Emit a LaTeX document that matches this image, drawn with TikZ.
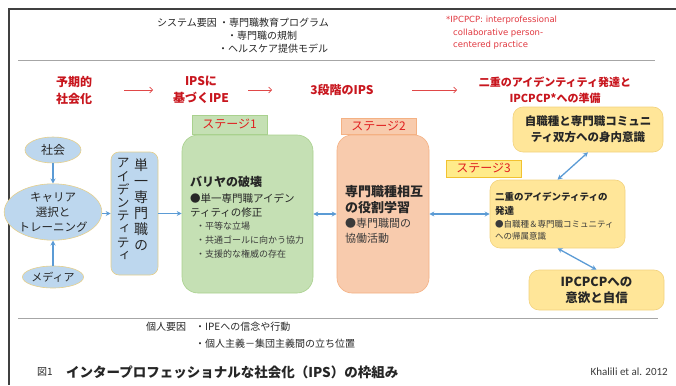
\documentclass[tikz,border=0pt]{standalone}
\usepackage{fontspec}
\setmainfont{Noto Sans CJK JP}
\newfontfamily\dvfont{DejaVu Sans}
\newfontfamily\cbfont{Carlito}
\newfontfamily\jpv[RawFeature=+vert]{Noto Sans CJK JP}
\usetikzlibrary{arrows.meta,shapes.geometric}
\newcommand\myfs[1]{\fontsize{#1}{#1}\selectfont}
\newcommand\myfsb[2]{\fontsize{#1}{#2}\selectfont}
\definecolor{textDark}{HTML}{262626}
\definecolor{textGray}{HTML}{3A3A3A}
\definecolor{headRed}{HTML}{C8161E}
\definecolor{noteRed}{HTML}{E0363E}
\definecolor{labRed}{HTML}{E02020}
\definecolor{lineRed}{HTML}{E04848}
\definecolor{arrowBlue}{HTML}{5B9BD5}
\definecolor{blueFill}{HTML}{BDD7EE}
\definecolor{borderY}{HTML}{E6CF8A}
\definecolor{greenFill}{HTML}{C5E0B4}
\definecolor{greenBorder}{HTML}{A9D18E}
\definecolor{peachFill}{HTML}{F8CBAD}
\definecolor{peachBorder}{HTML}{F4B183}
\definecolor{yellowFill}{HTML}{FFE699}
\definecolor{yellowBorder}{HTML}{F2D27E}
\definecolor{labYFill}{HTML}{FFEB8A}
\definecolor{labYBorder}{HTML}{F2C230}
\definecolor{frameDark}{HTML}{404040}
\definecolor{frameGray}{HTML}{A6A6A6}
\tikzset{
  barrow/.style={draw=arrowBlue, line width=1.3pt, -{Stealth[length=5pt,width=5pt]}},
  bbarrow/.style={draw=arrowBlue, line width=1.3pt, {Stealth[length=5pt,width=5pt]}-{Stealth[length=5pt,width=5pt]}},
  rarrow/.style={draw=lineRed, line width=0.7pt, -{Straight Barb[length=3pt,width=6pt]}},
  txt/.style={inner sep=0pt, anchor=west, text=textDark},
  head/.style={inner sep=0pt, align=center, text=headRed, font=\bfseries\myfsb{12}{17}},
  ell/.style={ellipse, draw=borderY, fill=blueFill, line width=0.6pt, inner sep=0pt, align=center, text=textDark},
  boxbase/.style={rectangle, line width=0.6pt, inner sep=0pt},
  stagelab/.style={rectangle, line width=0.8pt, inner sep=0pt, text=labRed, font=\myfs{12}},
  gline/.style={draw=frameGray, line width=1pt},
}
\begin{document}
\begin{tikzpicture}[x=1pt,y=-1pt]
\useasboundingbox (0,0) rectangle (676,385);
% frame
\draw[draw=frameDark, line width=1.4pt] (676,9) -- (9,9) -- (9,385);
\draw[gline] (18,61) -- (655,61);
\draw[gline] (18,318) -- (658,318);
% top system factors
\node[txt, font=\myfs{10}] (sys) at (157,23) {システム要因};
\node[txt, font=\myfs{10}] (sys1) at (219,23) {・専門職教育プログラム};
\node[txt, font=\myfs{10}] (sys2) at (227,36) {・専門職の規制};
\node[txt, font=\myfs{10}] (sys3) at (218,49) {・ヘルスケア提供モデル};
% note
\node[txt, text=noteRed, font=\dvfont\myfs{8.5}] (note1) at (446,20) {*IPCPCP: interprofessional};
\node[txt, text=noteRed, font=\dvfont\myfs{8.5}] (note2) at (453,33) {collaborative person-};
\node[txt, text=noteRed, font=\dvfont\myfs{8.5}] (note3) at (453,45) {centered practice};
% headers
\node[head] (h1) at (74,90) {予期的\\社会化};
\node[head] (h2) at (201,90) {IPSに\\基づくIPE};
\node[head] (h3) at (342,90) {3段階のIPS};
\node[head, font=\bfseries\myfsb{11}{16}] (h4) at (555,90) {二重のアイデンティティ発達と\\IPCPCP*への準備};
\coordinate (ra1s) at (124,90); \coordinate (ra1e) at (153,90);
\coordinate (ra2s) at (248,90); \coordinate (ra2e) at (272,90);
\coordinate (ra3s) at (412,90); \coordinate (ra3e) at (457,90);
\draw[rarrow] (ra1s) -- (ra1e);
\draw[rarrow] (ra2s) -- (ra2e);
\draw[rarrow] (ra3s) -- (ra3e);
% left ellipses
\node[ell, minimum width=56pt, minimum height=26pt, font=\myfs{12}] (shakai) at (53,150) {社会};
\node[ell, minimum width=88pt, minimum height=56pt, font=\myfsb{11.5}{15}] (career) at (53,212) {キャリア\\選択と\\トレーニング};
\node[ell, minimum width=56pt, minimum height=22pt, font=\myfs{11}] (media) at (53,277) {メディア};
\draw[barrow] (shakai) -- (career);
\draw[barrow] (media) -- (career);
% single-profession identity box
\node[boxbase, draw=borderY, fill=blueFill, rounded corners=8pt, minimum width=47pt, minimum height=123pt] (single) at (134.5,213.5) {};
\node[inner sep=0pt, align=center, text=textDark, font=\jpv\myfsb{14}{16}] (v1) at (141,205) {単\\一\\専\\門\\職\\の};
\node[inner sep=0pt, align=center, text=textDark, font=\jpv\myfsb{13}{13.2}] (v2) at (123,209.5) {ア\\イ\\デ\\ン\\テ\\ィ\\テ\\ィ};
\draw[barrow] (career.east |- single.west) -- (single.west);
% stage 1
\node[boxbase, draw=greenBorder, fill=greenFill, rounded corners=16pt, minimum width=131pt, minimum height=158pt] (s1) at (247.5,214) {};
\node[stagelab, draw=greenBorder, fill=greenFill, minimum width=75pt, minimum height=19pt] (s1lab) at (229.5,124.5) {ステージ1};
\node[txt, font=\bfseries\myfs{12}] (s1a) at (190,182) {バリヤの破壊};
\node[txt, font=\myfs{10.5}] (s1b) at (190,198) {●単一専門職アイデン};
\node[txt, font=\myfs{10.5}] (s1c) at (190,213) {ティティの修正};
\node[txt, font=\myfs{9}, text=textGray] (s1d) at (196,226) {・平等な立場};
\node[txt, font=\myfs{9}, text=textGray] (s1e) at (196,240) {・共通ゴールに向かう協力};
\node[txt, font=\myfs{9}, text=textGray] (s1f) at (196,254) {・支援的な権威の存在};
\draw[barrow] (single.east) -- (single.east -| s1.west);
% stage 2
\node[boxbase, draw=peachBorder, fill=peachFill, rounded corners=15pt, minimum width=92pt, minimum height=158pt] (s2) at (383,214) {};
\node[stagelab, draw=peachBorder, fill=peachFill, minimum width=75pt, minimum height=16pt] (s2lab) at (378.5,126) {ステージ2};
\node[txt, font=\bfseries\myfs{13}] (s2a) at (345,192) {専門職種相互};
\node[txt, font=\bfseries\myfs{13}] (s2b) at (345,208) {の役割学習};
\node[txt, font=\myfs{11}, text=textGray] (s2c) at (345,223) {●専門職間の};
\node[txt, font=\myfs{11}, text=textGray] (s2d) at (345,238) {協働活動};
\draw[bbarrow] (s1.east) -- (s1.east -| s2.west);
% stage 3
\node[boxbase, draw=yellowBorder, fill=yellowFill, rounded corners=10pt, minimum width=135pt, minimum height=68pt] (s3) at (557.5,214) {};
\node[stagelab, draw=labYBorder, fill=labYFill, minimum width=75pt, minimum height=17pt] (s3lab) at (483.5,168.5) {ステージ3};
\node[txt, font=\bfseries\myfs{9.5}] (s3a) at (495,197) {二重のアイデンティティの};
\node[txt, font=\bfseries\myfs{9.5}] (s3b) at (495,211) {発達};
\node[txt, font=\myfs{8.5}, text=textGray] (s3c) at (495,224) {●自職種＆専門職コミュニティ};
\node[txt, font=\myfs{8.5}, text=textGray] (s3d) at (495,236) {への帰属意識};
\draw[bbarrow] (s2.east) -- (s2.east -| s3.west);
% right boxes
\node[boxbase, draw=yellowBorder, fill=yellowFill, rounded corners=10pt, minimum width=150pt, minimum height=45pt, align=center, text=textDark, font=\bfseries\myfsb{11.5}{16}] (topb) at (588,129.5) {自職種と専門職コミュニ\\ティ双方への身内意識};
\node[boxbase, draw=yellowBorder, fill=yellowFill, rounded corners=10pt, minimum width=135pt, minimum height=40pt, align=center, text=textDark, font=\bfseries\myfsb{12.5}{16}] (botb) at (596.5,290) {IPCPCPへの\\意欲と自信};
\draw[bbarrow] (topb.south) -- (s3.north);
\draw[bbarrow] (s3.south) -- (botb.north);
% individual factors
\node[txt, font=\myfs{10}] (ind) at (146,327) {個人要因};
\node[txt, font=\myfs{10}] (ind1) at (195,327) {・IPEへの信念や行動};
\node[txt, font=\myfs{10}] (ind2) at (195,344) {・個人主義－集団主義間の立ち位置};
% caption
\node[txt, font=\myfs{10}] (fig) at (37,372) {図1};
\node[txt, font=\bfseries\myfs{13.5}] (title) at (66,372) {インタープロフェッショナルな社会化（IPS）の枠組み};
\node[inner sep=0pt, anchor=east, text=textGray, font=\cbfont\myfs{11}] (cite) at (668,372) {Khalili et al. 2012};
\end{tikzpicture}
\end{document}
